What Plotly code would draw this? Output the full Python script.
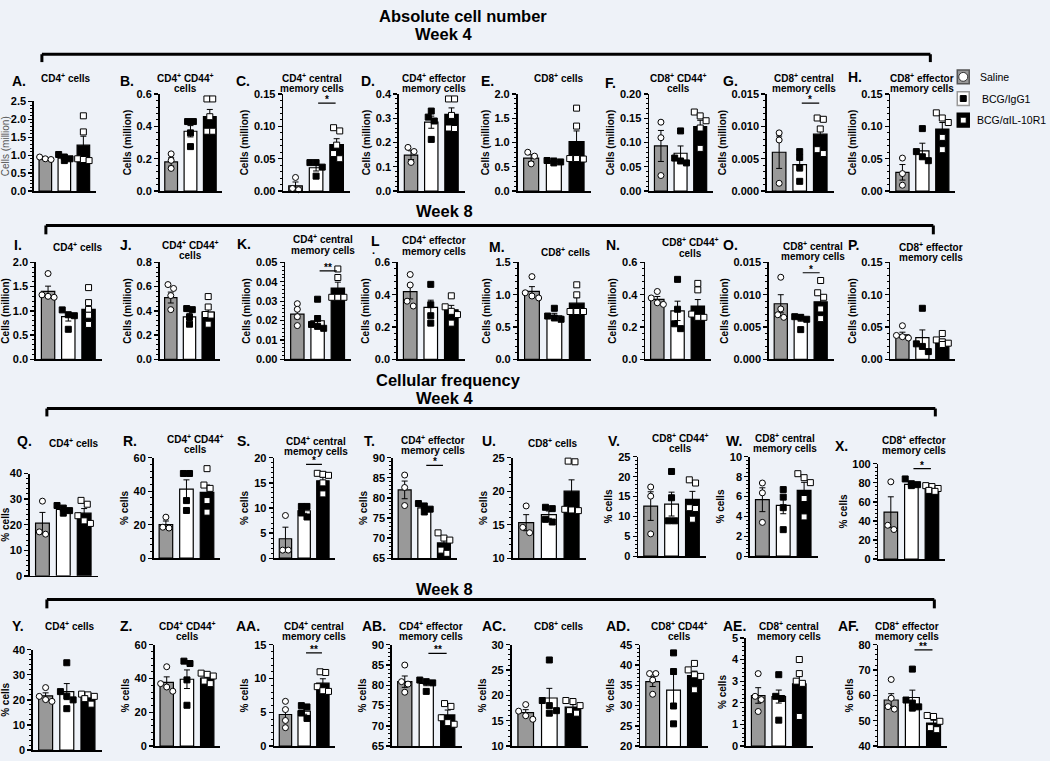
import plotly.graph_objects as go

W, H = 1050, 761
FONT = "Liberation Sans, Arial, sans-serif"
BG = "#eef2f8"
GRAY = "#999999"

# ---------------- data (Saline, BCG/IgG1, BCG/αIL-10R1) ----------------
# Absolute cell number, week 4
A_sal = [0.95, 0.90, 0.88]; A_igg = [1.02, 0.95, 0.90, 0.85]; A_il = [2.1, 1.65, 0.90, 0.88, 0.85]
A_bar = [0.91, 0.92, 1.28]; A_sem = [0.02, 0.04, 0.25]
B_sal = [0.23, 0.19, 0.14]; B_igg = [0.43, 0.43, 0.36, 0.275]; B_il = [0.57, 0.57, 0.46, 0.37, 0.37]
B_bar = [0.18, 0.37, 0.46]; B_sem = [0.026, 0.035, 0.045]
C_sal = [0.021, 0.004, 0.002]; C_igg = [0.044, 0.044, 0.037, 0.023]; C_il = [0.098, 0.093, 0.071, 0.058, 0.05]
C_bar = [0.008, 0.036, 0.072]; C_sem = [0.006, 0.005, 0.009]
D_sal = [0.18, 0.163, 0.118]; D_igg = [0.33, 0.305, 0.289, 0.213]; D_il = [0.38, 0.38, 0.312, 0.26, 0.258]
D_bar = [0.148, 0.284, 0.316]; D_sem = [0.018, 0.025, 0.027]
E_sal = [0.80, 0.72, 0.56]; E_igg = [0.63, 0.62, 0.60, 0.58]; E_il = [1.71, 1.34, 0.67, 0.67, 0.66]
E_bar = [0.68, 0.61, 1.02]; E_sem = [0.07, 0.015, 0.22]
F_sal = [0.142, 0.11, 0.032]; F_igg = [0.124, 0.068, 0.062, 0.058]; F_il = [0.163, 0.155, 0.145, 0.13, 0.088]
F_bar = [0.093, 0.078, 0.133]; F_sem = [0.032, 0.015, 0.013]
G_sal = [0.009, 0.0079, 0.0012]; G_igg = [0.0061, 0.0052, 0.0036, 0.0015]; G_il = [0.0113, 0.0111, 0.0096, 0.0064, 0.0058]
G_bar = [0.006, 0.0041, 0.0088]; G_sem = [0.0025, 0.001, 0.0012]
H_sal = [0.051, 0.027, 0.009]; H_igg = [0.0966, 0.061, 0.053, 0.047]; H_il = [0.121, 0.113, 0.106, 0.083, 0.064]
H_bar = [0.029, 0.062, 0.096]; H_sem = [0.012, 0.012, 0.01]
# Absolute cell number, week 8
I_sal = [1.77, 1.33, 1.30, 1.28]; I_igg = [1.02, 0.92, 0.90, 0.62]; I_il = [1.48, 1.17, 1.03, 0.91, 0.72]
I_bar = [1.40, 0.88, 1.03]; I_sem = [0.11, 0.09, 0.13]
J_sal = [0.617, 0.585, 0.526, 0.41]; J_igg = [0.419, 0.41, 0.349, 0.29]; J_il = [0.518, 0.432, 0.37, 0.365, 0.29]
J_bar = [0.51, 0.35, 0.39]; J_sem = [0.045, 0.03, 0.04]
K_sal = [0.0287, 0.0258, 0.022, 0.0174]; K_igg = [0.031, 0.021, 0.018, 0.017, 0.016]; K_il = [0.0466, 0.0422, 0.032, 0.032, 0.032]
K_bar = [0.0233, 0.0199, 0.0368]; K_sem = [0.0024, 0.0027, 0.003]
L_sal = [0.525, 0.46, 0.36, 0.33]; L_igg = [0.464, 0.338, 0.27, 0.224]; L_il = [0.393, 0.325, 0.297, 0.277, 0.224]
L_bar = [0.419, 0.321, 0.307]; L_sem = [0.045, 0.045, 0.027]
M_sal = [1.28, 1.03, 0.98, 0.95]; M_igg = [0.79, 0.67, 0.64, 0.62]; M_il = [1.153, 0.998, 0.74, 0.74, 0.74]
M_bar = [1.05, 0.672, 0.869]; M_sem = [0.075, 0.04, 0.085]
N_sal = [0.42, 0.38, 0.35, 0.34]; N_igg = [0.495, 0.31, 0.22, 0.19]; N_il = [0.47, 0.43, 0.28, 0.26, 0.26]
N_bar = [0.371, 0.30, 0.33]; N_sem = [0.018, 0.06, 0.04]
O_sal = [0.0127, 0.0078, 0.0069, 0.0065]; O_igg = [0.0066, 0.0065, 0.0062, 0.0046]; O_il = [0.0122, 0.0103, 0.0096, 0.0078, 0.0063]
O_bar = [0.0086, 0.0064, 0.0089]; O_sem = [0.0014, 0.0005, 0.001]
P_sal = [0.052, 0.037, 0.035, 0.033]; P_igg = [0.079, 0.024, 0.02, 0.012]; P_il = [0.04, 0.03, 0.027, 0.025, 0.023]
P_bar = [0.038, 0.0335, 0.028]; P_sem = [0.004, 0.012, 0.003]
# Cellular frequency, week 4
Q_sal = [29.2, 17.2, 16.3]; Q_igg = [27.5, 26.5, 25.5, 24.5]; Q_il = [29.5, 28.0, 23.5, 21.5, 20.5]
Q_bar = [20.6, 26.0, 24.5]; Q_sem = [4.2, 0.65, 1.8]
R_sal = [24.5, 18.5, 18.0]; R_igg = [50.6, 50.6, 34.4, 28.5]; R_il = [53.5, 43.7, 41.7, 34.4, 27.5]
R_bar = [20.1, 41.3, 39.3]; R_sem = [2.1, 5.5, 4.4]
S_sal = [8.5, 1.6, 1.6]; S_igg = [10.3, 10.3, 9.0, 8.2]; S_il = [16.9, 16.7, 16.5, 15.0, 12.8]
S_bar = [3.87, 9.44, 15.4]; S_sem = [2.3, 0.5, 0.75]
T_sal = [85.7, 82.6, 78.1]; T_igg = [78.6, 78.0, 77.2, 76.5]; T_il = [71.3, 70.0, 69.5, 67.0, 66.2]
T_bar = [82.0, 77.5, 68.8]; T_sem = [2.2, 0.45, 0.9]
U_sal = [17.8, 14.6, 13.8]; U_igg = [17.6, 17.4, 15.8, 15.4]; U_il = [24.5, 24.4, 17.3, 17.2, 17.1]
U_bar = [15.3, 16.5, 20.0]; U_sem = [1.2, 0.55, 1.7]
V_sal = [17.4, 15.1, 5.6]; V_igg = [21.3, 14.7, 8.9, 8.9]; V_il = [19.2, 18.4, 12.2, 12.0, 9.3]
V_bar = [12.6, 13.1, 14.3]; V_sem = [3.6, 3.0, 2.0]
W_sal = [7.36, 6.37, 3.4]; W_igg = [6.7, 5.94, 4.88, 2.67]; W_il = [8.3, 7.9, 7.4, 5.8, 3.95]
W_bar = [5.68, 5.12, 6.63]; W_sem = [1.2, 0.85, 0.8]
X_sal = [81, 35.5, 31]; X_igg = [84, 79, 78, 77]; X_il = [77, 76, 74, 72, 71]
X_bar = [49.3, 78.3, 74.1]; X_sem = [16, 1.5, 1.1]
# Cellular frequency, week 8
Y_sal = [24.9, 21.4, 20.1, 19.4]; Y_igg = [34.8, 23.3, 21.5, 20.0, 16.5]; Y_il = [22.3, 22.0, 21.4, 20.5, 18.3]
Y_bar = [21.6, 23.3, 21.0]; Y_sem = [1.2, 3.2, 0.7]
Z_sal = [47.0, 37.0, 35.0, 32.5]; Z_igg = [50.3, 48.9, 39.2, 24.2]; Z_il = [43.2, 42.5, 41.5, 38.5, 37.0]
Z_bar = [37.8, 39.6, 40.2]; Z_sem = [3.2, 5.5, 1.2]
AA_sal = [6.63, 5.41, 3.8, 2.73]; AA_igg = [6.0, 5.8, 4.9, 4.1]; AA_il = [11.0, 10.9, 8.8, 8.2, 8.1]
AA_bar = [4.68, 5.17, 9.32]; AA_sem = [0.85, 0.45, 0.65]
AB_sal = [85.0, 80.9, 80.3, 78.3]; AB_igg = [81.3, 80.9, 80.6, 78.5]; AB_il = [75.5, 74.8, 72.0, 70.8, 70.4]
AB_bar = [80.9, 80.5, 72.7]; AB_sem = [1.4, 0.6, 1.2]
AC_sal = [18.2, 16.9, 16.0, 15.3]; AC_igg = [27.0, 19.0, 18.0, 17.0, 16.5]; AC_il = [19.0, 18.8, 18.0, 17.0, 16.5]
AC_bar = [16.6, 19.5, 17.7]; AC_sem = [0.6, 1.9, 0.5]
AD_sal = [37.9, 37.9, 36.3, 32.8]; AD_igg = [43.0, 38.4, 29.9, 25.5]; AD_il = [40.4, 38.8, 37.6, 37.2, 33.9]
AD_bar = [35.9, 33.8, 37.4]; AD_sem = [1.2, 3.9, 1.1]
AE_sal = [3.35, 2.3, 2.15, 1.6]; AE_igg = [3.3, 2.3, 2.2, 1.2]; AE_il = [4.0, 3.35, 3.0, 2.9, 1.37]
AE_bar = [2.34, 2.29, 2.88]; AE_sem = [0.36, 0.3, 0.44]
AF_sal = [66.3, 58.9, 55.6, 54.6]; AF_igg = [70.4, 58.2, 57.0, 55.5, 55.0]; AF_il = [52.1, 51.7, 49.8, 47.3, 46.5]
AF_bar = [58.2, 59.2, 49.1]; AF_sem = [2.5, 2.9, 1.1]

GROUPS = ["Saline", "BCG/IgG1", "BCG/αIL-10R1"]
LETTERS = ["A", "B", "C", "D", "E", "F", "G", "H", "I", "J", "K", "L", "M", "N", "O", "P",
           "Q", "R", "S", "T", "U", "V", "W", "X", "Y", "Z", "AA", "AB", "AC", "AD", "AE", "AF"]
DATA = {k: (globals()[k + "_sal"], globals()[k + "_igg"], globals()[k + "_il"],
            globals()[k + "_bar"], globals()[k + "_sem"]) for k in LETTERS}

# significance marks
SIG_PANEL = ["C", "G", "K", "O", "S", "T", "X", "AA", "AB", "AF"]
SIG_Y = [0.136, 0.0136, 0.0456, 0.0134, 18.7, 88.1, 94.8, 13.8, 87.9, 78.0]
SIG_TXT = ["*", "*", "**", "*", "*", "*", "*", "**", "**", "**"]

# y axis: range, major step, format
YR = {"A": ([0, 2.5], 0.5, ".1f"), "B": ([0, 0.6], 0.2, ".1f"), "C": ([0, 0.15], 0.05, ".2f"),
      "D": ([0, 0.4], 0.1, ".1f"), "E": ([0, 2.0], 0.5, ".1f"), "F": ([0, 0.2], 0.05, ".2f"),
      "G": ([0, 0.015], 0.005, ".3f"), "H": ([0, 0.15], 0.05, ".2f"),
      "I": ([0, 2.0], 0.5, ".1f"), "J": ([0, 0.8], 0.2, ".1f"), "K": ([0, 0.05], 0.01, ".2f"),
      "L": ([0, 0.6], 0.2, ".1f"), "M": ([0, 1.5], 0.5, ".1f"), "N": ([0, 0.6], 0.2, ".1f"),
      "O": ([0, 0.015], 0.005, ".3f"), "P": ([0, 0.15], 0.05, ".2f"),
      "Q": ([0, 40], 10, "d"), "R": ([0, 60], 20, "d"), "S": ([0, 20], 5, "d"), "T": ([65, 90], 5, "d"),
      "U": ([10, 25], 5, "d"), "V": ([0, 25], 5, "d"), "W": ([0, 10], 2, "d"), "X": ([0, 100], 20, "d"),
      "Y": ([0, 40], 10, "d"), "Z": ([0, 60], 20, "d"), "AA": ([0, 15], 5, "d"), "AB": ([65, 90], 5, "d"),
      "AC": ([10, 30], 5, "d"), "AD": ([20, 45], 5, "d"), "AE": ([0, 5], 1, "d"), "AF": ([40, 80], 10, "d")}

T_ROW = [["CD4<sup>+</sup> cells"], ["CD4<sup>+</sup> CD44<sup>+</sup>", "cells"],
         ["CD4<sup>+</sup> central", "memory cells"], ["CD4<sup>+</sup> effector", "memory cells"],
         ["CD8<sup>+</sup> cells"], ["CD8<sup>+</sup> CD44<sup>+</sup>", "cells"],
         ["CD8<sup>+</sup> central", "memory cells"], ["CD8<sup>+</sup> effector", "memory cells"]]

# ---------------- layout positions (pixels) ----------------
PX0 = [31, 157, 281, 397, 516, 648, 766, 890,
       33, 157, 283, 396, 517, 644, 768, 890,
       27, 151, 272, 391, 511, 637, 749, 878,
       30, 152, 272, 390, 510, 639, 745, 878]
PX1 = [93, 220, 348, 463, 590, 712, 833, 955,
       99, 218, 349, 463, 590, 710, 833, 955,
       95, 218, 333, 455, 585, 705, 817, 945,
       99, 218, 333, 460, 587, 707, 812, 947]
PTOP = [97] + [89.5] * 7 + [260.5] * 8 + [475, 459, 459, 459, 459, 458, 458, 465] + \
       [654, 649, 649, 649, 649, 649, 642, 649]
PBOT = [188] * 8 + [359] * 8 + [579, 561, 561, 561, 561, 559, 559, 562] + [756] + [752] * 7

TITLE_X = [63, 183, 310, 432, 558, 677, 803, 922,
           75, 188, 321, 432, 565, 689, 812, 931,
           71, 193, 314, 431, 552, 679, 784, 914,
           67, 185, 312, 429, 558, 678, 788, 907]
# y of first title line
TITLE_Y = [73, 73, 73, 73, 73, 73, 73, 73,
           245, 243, 237, 238, 250, 240, 244, 245,
           444, 440, 442, 441, 444, 439, 439, 441,
           630, 630, 630, 630, 630, 630, 630, 630]
LINE_GAP = 11
LET_X = [7, 115, 232, 357, 477, 602, 720, 845,
         9, 115, 233, 367, 485, 603, 720, 845,
         12, 118, 233, 360, 478, 605, 723, 832,
         7, 115, 232, 358, 478, 603, 720, 835]
LET_Y = [76, 76, 76, 76, 76, 78, 76, 72,
         243, 243, 242, 239, 245, 243, 243, 243,
         442, 442, 442, 442, 442, 442, 442, 447,
         630, 630, 630, 630, 630, 630, 630, 630]


def px(x):
    return x / W


def py(y):
    return 1 - y / H


def spread(vals, span, xc):
    thr = 0.055 * span
    order = sorted(range(len(vals)), key=lambda i: -vals[i])
    clusters = []
    for i in order:
        if clusters and abs(vals[i] - vals[clusters[-1][-1]]) < thr and len(clusters[-1]) < 3:
            clusters[-1].append(i)
        else:
            clusters.append([i])
    xs = [xc] * len(vals)
    for c in clusters:
        n = len(c)
        for k, i in enumerate(c):
            xs[i] = xc + (k - (n - 1) / 2) * 0.3
    return xs


fig = go.Figure()
layout = {}
annotations = []
shapes = []

for idx, key in enumerate(LETTERS):
    n = idx + 1
    xs_name = "x" if n == 1 else f"x{n}"
    ys_name = "y" if n == 1 else f"y{n}"
    sal, igg, il, bar, sem = DATA[key]
    rng, dt, fmt = YR[key]
    span = rng[1] - rng[0]

    fig.add_trace(go.Bar(
        x=[0, 1, 2], y=bar, width=0.66, xaxis=xs_name, yaxis=ys_name,
        marker=dict(color=[GRAY, "white", "black"], line=dict(color="black", width=1.2)),
        error_y=dict(type="data", array=sem, color="black", thickness=1, width=3),
        showlegend=False, hoverinfo="skip"))
    styles = [("circle", "white", "black"), ("square", "black", "black"), ("square", "white", "black")]
    for g, (pts, (sym, fc, lc)) in enumerate(zip([sal, igg, il], styles)):
        fig.add_trace(go.Scatter(
            x=spread(pts, span, g), y=pts, mode="markers", xaxis=xs_name, yaxis=ys_name,
            marker=dict(symbol=sym, size=6, color=fc, line=dict(color=lc, width=1)),
            cliponaxis=False, showlegend=False, hoverinfo="skip", name=GROUPS[g]))

    row = idx // 8
    ytitle = "Cells (million)" if row < 2 else "% cells"
    tfont = dict(family=FONT, size=10, color="black", weight="bold")
    if key == "A":
        tfont = dict(family=FONT, size=10, color="#555555", weight="normal")
    layout["xaxis" if n == 1 else f"xaxis{n}"] = dict(
        domain=[px(PX0[idx]), px(PX1[idx])], range=[-0.6, 2.65], anchor=ys_name,
        showgrid=False, zeroline=False, showticklabels=False, ticks="",
        showline=True, linecolor="black", linewidth=1.6, fixedrange=True)
    layout["yaxis" if n == 1 else f"yaxis{n}"] = dict(
        domain=[py(PBOT[idx]), py(PTOP[idx])], range=rng, anchor=xs_name,
        tick0=rng[0], dtick=dt, tickformat=fmt,
        ticks="outside", ticklen=4, tickwidth=1.3, tickcolor="black",
        showline=True, linecolor="black", linewidth=1.6, showgrid=False, zeroline=False,
        tickfont=dict(family=FONT, size=11, color="black", weight="bold"),
        minor=dict(dtick=dt / 5, tick0=rng[0], ticks="outside", ticklen=2, tickwidth=1,
                   tickcolor="black", showgrid=False),
        title=dict(text=ytitle, font=tfont, standoff=3), fixedrange=True)

    # title lines & letter
    for li, line in enumerate(T_ROW[idx % 8]):
        annotations.append(dict(text="<b>" + line + "</b>",
                                x=px(TITLE_X[idx]), y=py(TITLE_Y[idx] + li * LINE_GAP),
                                xref="paper", yref="paper", xanchor="center", yanchor="middle",
                                showarrow=False, font=dict(family=FONT, size=10, color="black")))
    annotations.append(dict(text="<b>" + key + ("." if key != "L" else "") + "</b>",
                            x=px(LET_X[idx]), y=py(LET_Y[idx]), xref="paper", yref="paper",
                            xanchor="left", yanchor="middle", showarrow=False,
                            font=dict(family=FONT, size=14, color="black")))

# dot below "L"
annotations.append(dict(text="<b>·</b>", x=px(368), y=py(251), xref="paper", yref="paper",
                        xanchor="left", yanchor="middle", showarrow=False,
                        font=dict(family=FONT, size=11, color="black")))

# significance lines
for key, yv, txt in zip(SIG_PANEL, SIG_Y, SIG_TXT):
    n = LETTERS.index(key) + 1
    xs_name = "x" if n == 1 else f"x{n}"
    ys_name = "y" if n == 1 else f"y{n}"
    fig.add_trace(go.Scatter(x=[1.1, 1.95], y=[yv, yv], mode="lines", xaxis=xs_name, yaxis=ys_name,
                             line=dict(color="black", width=1.2), cliponaxis=False,
                             showlegend=False, hoverinfo="skip"))
    annotations.append(dict(text="<b>" + txt + "</b>", x=1.525, y=yv, xref=xs_name, yref=ys_name,
                            xanchor="center", yanchor="bottom", yshift=-4, showarrow=False,
                            font=dict(family=FONT, size=10, color="black")))

# headers & brackets
HEAD_TXT = ["Absolute cell number", "Week 4", "Week 8", "Cellular frequency", "Week 4", "Week 8"]
HEAD_X = [461, 442, 443, 447, 443, 443]
HEAD_Y = [10, 28, 208, 380, 398, 592]
for t, hx, hy in zip(HEAD_TXT, HEAD_X, HEAD_Y):
    annotations.append(dict(text="<b>" + t + "</b>", x=px(hx), y=py(hy), xref="paper", yref="paper",
                            xanchor="center", yanchor="middle", showarrow=False,
                            font=dict(family=FONT, size=16.5, color="black")))
BR_X0 = [39, 43, 44, 44]
BR_X1 = [930, 933, 935, 934]
BR_Y = [49, 223, 409, 603]
BR_T = [57, 232, 417, 612]
for x0, x1, yb, yt in zip(BR_X0, BR_X1, BR_Y, BR_T):
    for (a, b, c, d) in [(x0, yb, x1, yb), (x0, yb, x0, yt), (x1, yb, x1, yt)]:
        shapes.append(dict(type="line", xref="paper", yref="paper", x0=px(a), y0=py(b), x1=px(c), y1=py(d),
                           line=dict(color="black", width=3)))

# legend
LEG_Y = [72, 94, 116]
LEG_TX = [978, 980, 975]
for g, (ly, tx) in enumerate(zip(LEG_Y, LEG_TX)):
    fill = [GRAY, "white", "black"][g]
    border = ["#555555", "#999999", "black"][g]
    shapes.append(dict(type="rect", xref="paper", yref="paper", x0=px(957), x1=px(969),
                       y0=py(ly + 7), y1=py(ly - 7), fillcolor=fill, line=dict(color=border, width=1.5)))
    if g == 0:
        shapes.append(dict(type="circle", xref="paper", yref="paper", x0=px(958.5), x1=px(967.5),
                           y0=py(ly + 4.5), y1=py(ly - 4.5), fillcolor="white", line=dict(color="#333", width=1)))
    else:
        inner = "black" if g == 1 else "white"
        shapes.append(dict(type="rect", xref="paper", yref="paper", x0=px(960), x1=px(966),
                           y0=py(ly + 3), y1=py(ly - 3), fillcolor=inner, line=dict(color="black", width=1)))
    annotations.append(dict(text=GROUPS[g], x=px(tx), y=py(ly), xref="paper", yref="paper",
                            xanchor="left", yanchor="middle", showarrow=False,
                            font=dict(family=FONT, size=10.5, color="black")))

fig.update_layout(**layout)
fig.update_layout(width=W, height=H, margin=dict(l=0, r=0, t=0, b=0),
                  paper_bgcolor=BG, plot_bgcolor=BG, barmode="overlay",
                  annotations=annotations, shapes=shapes, showlegend=False,
                  font=dict(family=FONT, color="black"))
fig.write_html("out.html", config={"displayModeBar": False, "staticPlot": True},
               post_script="document.body.style.margin='0px';"
                           "document.documentElement.style.margin='0px';"
                           "document.body.style.overflow='hidden';")
